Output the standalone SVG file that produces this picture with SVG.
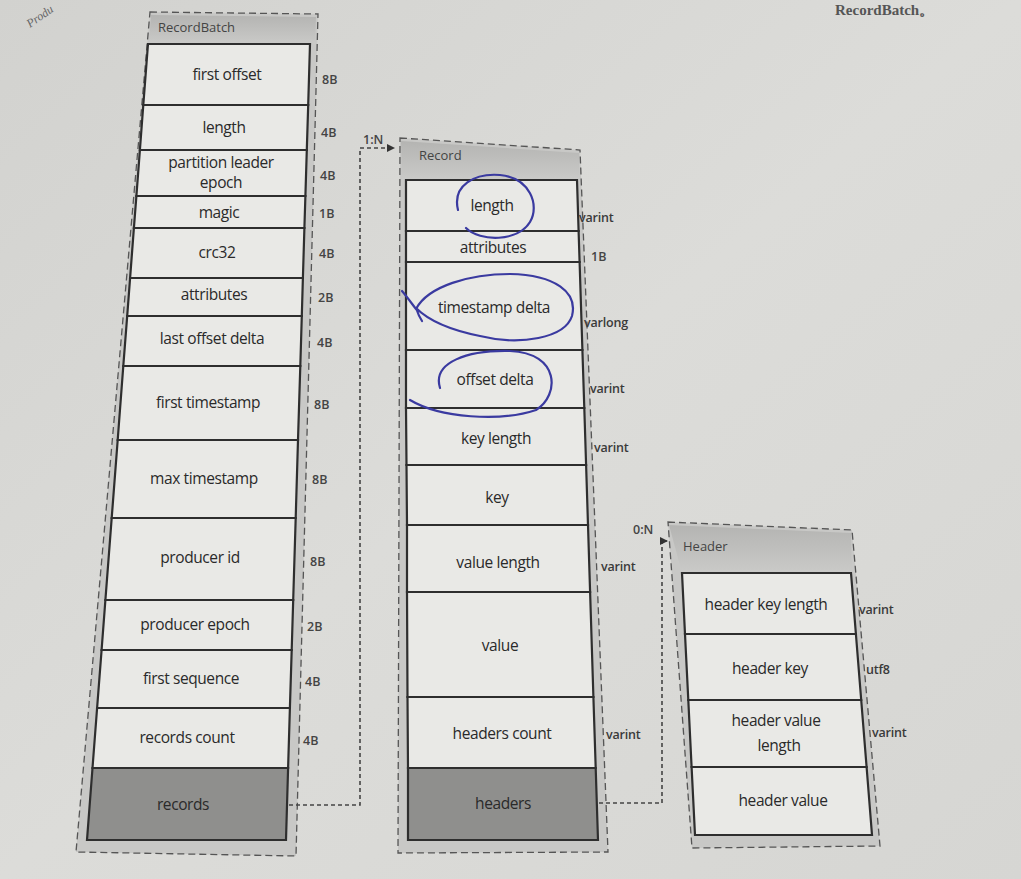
<svg xmlns="http://www.w3.org/2000/svg" width="1021" height="879" viewBox="0 0 1021 879">
<defs>
<linearGradient id="page" x1="0" y1="0" x2="1" y2="1">
<stop offset="0" stop-color="#d2d2cf"/><stop offset="0.5" stop-color="#dcdcd9"/><stop offset="1" stop-color="#d6d6d3"/>
</linearGradient>
<linearGradient id="band" x1="0" y1="0" x2="0" y2="1">
<stop offset="0" stop-color="#b4b4b2"/><stop offset="1" stop-color="#cacac8"/>
</linearGradient>
<marker id="arr" markerWidth="8" markerHeight="8" refX="7" refY="4" orient="auto" markerUnits="userSpaceOnUse">
<path d="M0,0 L8,4 L0,8 Z" fill="#333"/>
</marker>
<style>
.cont{fill:#c8c8c6;stroke:#555;stroke-width:1.3;stroke-dasharray:7 4}
.band{fill:url(#band)}
.row{fill:#e9e9e6;stroke:#2e2e2e;stroke-width:2.2}
.dark{fill:#8f8f8d;stroke:#2e2e2e;stroke-width:2.2}
.t{font-family:"Open Sans","Noto Sans",sans-serif;font-size:15.5px;fill:#2a2a2a;text-anchor:middle;letter-spacing:-0.4px}
.s{font-family:"Open Sans","Noto Sans",sans-serif;font-size:12.5px;font-weight:600;fill:#444}
.v{font-family:"Open Sans","Noto Sans",sans-serif;font-size:12.5px;font-weight:600;fill:#3a3a3a;letter-spacing:-0.2px}
.h{font-family:"Open Sans","Noto Sans",sans-serif;font-size:13px;fill:#444}
.conn{fill:none;stroke:#444;stroke-width:1.6;stroke-dasharray:4 3}
.ink{fill:none;stroke:#3a3aa0;stroke-width:2.2;stroke-linecap:round}
</style>
</defs>
<rect width="1021" height="879" fill="url(#page)"/>
<text x="835" y="15" font-family="Liberation Serif, serif" font-size="15" font-weight="bold" fill="#555">RecordBatch。</text>
<text x="30" y="28" font-family="Liberation Serif, serif" font-size="12" font-style="italic" fill="#666" transform="rotate(-35 30 28)">Produ</text>

<g id="recordbatch">
<polygon class="cont" points="150,12 318,14 296,856 76,852"/>
<polygon class="band" points="151,15 316,17 315,44 149,44"/>
<text x="158" y="32" class="h">RecordBatch</text>
<g id="rb-first-offset"><polygon class="row" points="148,44 310,44 308.2,105 143.3,105"/><text x="227" y="80" class="t">first offset</text><text x="322" y="84" class="s">8B</text></g>
<g id="rb-length"><polygon class="row" points="143.3,105 308.2,105 306.8,150 139.9,150"/><text x="224" y="133" class="t">length</text><text x="321" y="137" class="s">4B</text></g>
<g id="rb-ple"><polygon class="row" points="139.9,150 306.8,150 305.4,196 136.4,196"/><text x="221" y="168" class="t">partition leader</text><text x="221" y="188" class="t">epoch</text><text x="320" y="180" class="s">4B</text></g>
<g id="rb-magic"><polygon class="row" points="136.4,196 305.4,196 304.4,228 133.9,228"/><text x="219" y="218" class="t">magic</text><text x="319" y="218" class="s">1B</text></g>
<g id="rb-crc"><polygon class="row" points="133.9,228 304.4,228 302.9,278 130.1,278"/><text x="217" y="258" class="t">crc32</text><text x="319" y="258" class="s">4B</text></g>
<g id="rb-attr"><polygon class="row" points="130.1,278 302.9,278 301.8,316 127.2,316"/><text x="214" y="300" class="t">attributes</text><text x="318" y="302" class="s">2B</text></g>
<g id="rb-lod"><polygon class="row" points="127.2,316 301.8,316 300.3,366 123.3,366"/><text x="212" y="344" class="t">last offset delta</text><text x="317" y="347" class="s">4B</text></g>
<g id="rb-fts"><polygon class="row" points="123.3,366 300.3,366 298,440 117.7,440"/><text x="208" y="408" class="t">first timestamp</text><text x="314" y="409" class="s">8B</text></g>
<g id="rb-mts"><polygon class="row" points="117.7,440 298,440 295.7,518 111.7,518"/><text x="204" y="484" class="t">max timestamp</text><text x="312" y="484" class="s">8B</text></g>
<g id="rb-pid"><polygon class="row" points="111.7,518 295.7,518 293.2,600 105.4,600"/><text x="200" y="563" class="t">producer id</text><text x="310" y="566" class="s">8B</text></g>
<g id="rb-pep"><polygon class="row" points="105.4,600 293.2,600 291.7,650 101.6,650"/><text x="195" y="630" class="t">producer epoch</text><text x="307" y="631" class="s">2B</text></g>
<g id="rb-fseq"><polygon class="row" points="101.6,650 291.7,650 289.9,708 97.1,708"/><text x="191" y="684" class="t">first sequence</text><text x="305" y="686" class="s">4B</text></g>
<g id="rb-rc"><polygon class="row" points="97.1,708 289.9,708 288.1,768 92.5,768"/><text x="187" y="743" class="t">records count</text><text x="303" y="745" class="s">4B</text></g>
<g id="rb-records"><polygon class="dark" points="92.5,768 288.1,768 286,840 87,840"/><text x="183" y="810" class="t">records</text></g>
</g>

<g id="record">
<polygon class="cont" points="400,138 580,150 608,852 398,853"/>
<polygon class="band" points="401,141 579,153 579,180 402,180"/>
<text x="419" y="160" class="h">Record</text>
<g id="r-length"><polygon class="row" points="406,180 577,180 578.6,231 406,231"/><text x="492" y="211" class="t">length</text><text x="579" y="222" class="v">varint</text></g>
<g id="r-attr"><polygon class="row" points="406,231 578.6,231 579.6,262 406,262"/><text x="493" y="253" class="t">attributes</text><text x="591" y="261" class="s">1B</text></g>
<g id="r-tsd"><polygon class="row" points="406,262 579.6,262 582.4,350 406,350"/><text x="494" y="313" class="t">timestamp delta</text><text x="584" y="327" class="v">varlong</text></g>
<g id="r-offd"><polygon class="row" points="406,350 582.4,350 584.3,408 406,408"/><text x="495" y="385" class="t">offset delta</text><text x="590" y="393" class="v">varint</text></g>
<g id="r-kl"><polygon class="row" points="406,408 584.3,408 586.1,465 406.5,465"/><text x="496" y="444" class="t">key length</text><text x="594" y="452" class="v">varint</text></g>
<g id="r-key"><polygon class="row" points="406.5,465 586.1,465 588,525 407,525"/><text x="497" y="503" class="t">key</text></g>
<g id="r-vl"><polygon class="row" points="407,525 588,525 590.1,592 407,592"/><text x="498" y="568" class="t">value length</text><text x="601" y="571" class="v">varint</text></g>
<g id="r-val"><polygon class="row" points="407,592 590.1,592 593.4,697 407.5,697"/><text x="500" y="651" class="t">value</text></g>
<g id="r-hc"><polygon class="row" points="407.5,697 593.4,697 595.7,768 408,768"/><text x="502" y="739" class="t">headers count</text><text x="606" y="739" class="v">varint</text></g>
<g id="r-headers"><polygon class="dark" points="408,768 595.7,768 598,840 408,840"/><text x="503" y="809" class="t">headers</text></g>
</g>

<g id="header">
<polygon class="cont" points="668,522 852,530 880,846 692,848"/>
<polygon class="band" points="669,525 851,533 852,573 682,573"/>
<text x="683" y="551" class="h">Header</text>
<g id="h-kl"><polygon class="row" points="682,573 851,573 855.9,634 685,634"/><text x="766" y="610" class="t">header key length</text><text x="859" y="614" class="v">varint</text></g>
<g id="h-key"><polygon class="row" points="685,634 855.9,634 861.2,700 688.3,700"/><text x="770" y="674" class="t">header key</text><text x="866" y="674" class="v">utf8</text></g>
<g id="h-vl"><polygon class="row" points="688.3,700 861.2,700 866.6,767 691.6,767"/><text x="776" y="726" class="t">header value</text><text x="779" y="751" class="t">length</text><text x="872" y="737" class="v">varint</text></g>
<g id="h-val"><polygon class="row" points="691.6,767 866.6,767 872,835 695,835"/><text x="783" y="806" class="t">header value</text></g>
</g>

<g id="connectors">
<path class="conn" d="M289,805 H360 V148 H394" marker-end="url(#arr)"/>
<text x="363" y="144" class="s" font-size="11">1:N</text>
<path class="conn" d="M599,803 H662 V541 H667" marker-end="url(#arr)"/>
<text x="633" y="534" class="s" font-size="11">0:N</text>
</g>

<g id="annotations">
<path class="ink" d="M458,210 C452,185 475,173 500,175 C530,178 540,205 530,222 C518,242 480,242 466,228"/>
<path class="ink" d="M402,291 C408,298 412,304 416,309 C428,286 470,274 510,274 C555,275 578,292 572,316 C565,338 520,346 480,336 C450,330 428,320 416,308 C418,314 420,318 422,321"/>
<path class="ink" d="M440,388 C432,362 468,350 510,351 C560,353 560,395 536,410 C500,422 440,418 410,400"/>
</g>
</svg>
